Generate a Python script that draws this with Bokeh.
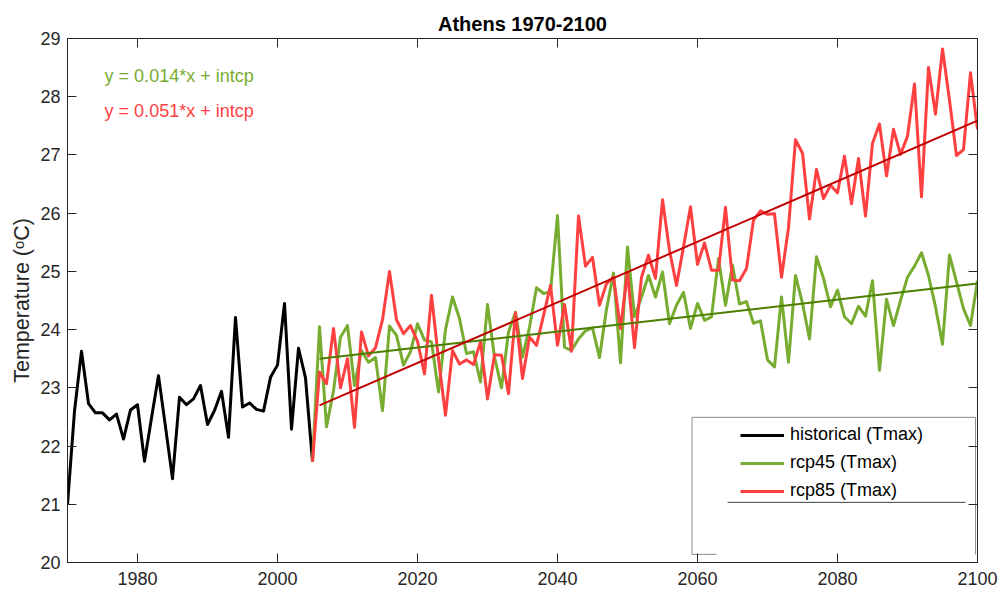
from bokeh.plotting import figure
from bokeh.models import Range1d, FixedTicker, LinearAxis, Label, Legend, LegendItem
from bokeh.embed import file_html
from bokeh.resources import INLINE

# ---------------- data ----------------
hist_years = list(range(1970, 2006))
hist_tmax = [21.00, 22.60, 23.63, 22.73, 22.57, 22.57, 22.45, 22.55, 22.12, 22.62,
             22.71, 21.74, 22.48, 23.21, 22.33, 21.44, 22.84, 22.71, 22.81, 23.04,
             22.37, 22.61, 22.94, 22.15, 24.21, 22.67, 22.74, 22.63, 22.60, 23.18,
             23.39, 24.45, 22.29, 23.68, 23.17, 21.73]

rcp_years = list(range(2005, 2101))
rcp45_tmax = [21.73, 24.05, 22.33, 22.95, 23.87, 24.07, 23.04, 23.64, 23.44, 23.52,
              22.61, 24.06, 23.90, 23.39, 23.62, 24.10, 23.82, 23.79, 22.93, 24.00,
              24.56, 24.19, 23.59, 23.62, 23.10, 24.43, 23.53, 23.00, 23.96, 24.30,
              23.53, 24.04, 24.72, 24.62, 24.65, 25.96, 23.70, 23.64, 23.84, 23.98,
              24.03, 23.52, 24.35, 24.97, 23.43, 25.42, 24.22, 24.56, 24.93, 24.56,
              24.99, 24.10, 24.42, 24.64, 24.02, 24.45, 24.16, 24.22, 25.22, 24.42,
              25.11, 24.44, 24.48, 24.11, 24.15, 23.48, 23.36, 24.56, 23.44, 24.93,
              24.45, 23.84, 25.25, 24.88, 24.39, 24.68, 24.22, 24.10, 24.40, 24.23,
              24.84, 23.30, 24.52, 24.07, 24.50, 24.90, 25.09, 25.32, 24.93, 24.39,
              23.75, 25.28, 24.82, 24.36, 24.07, 24.84]
rcp85_tmax = [21.73, 23.27, 23.07, 24.02, 23.00, 23.50, 22.32, 23.96, 23.55, 23.69,
              24.17, 25.00, 24.17, 23.93, 24.07, 23.80, 23.24, 24.59, 23.50, 22.53,
              23.64, 23.41, 23.48, 23.40, 23.79, 22.81, 23.57, 23.56, 22.90, 24.29,
              23.16, 23.87, 23.73, 24.24, 24.76, 23.73, 24.43, 23.63, 25.95, 25.09,
              25.24, 24.42, 24.79, 24.90, 24.02, 24.99, 23.69, 24.90, 25.28, 24.88,
              26.23, 25.36, 24.76, 25.42, 26.11, 25.12, 25.49, 25.02, 25.02, 26.10,
              24.85, 24.84, 25.05, 25.88, 26.04, 25.98, 25.99, 24.90, 25.75, 27.26,
              27.03, 25.90, 26.75, 26.25, 26.48, 26.35, 26.98, 26.16, 26.94, 25.95,
              27.20, 27.53, 26.64, 27.44, 27.01, 27.32, 28.22, 26.28, 28.50, 27.70,
              28.82, 27.94, 26.99, 27.09, 28.41, 27.44]

trend_years = [2006, 2100]
rcp45_trend = [23.50, 24.79]
rcp85_trend = [22.70, 27.59]
trend_labels = ["y = 0.014*x + intcp", "y = 0.051*x + intcp"]
series_names = ["historical (Tmax)", "rcp45 (Tmax)", "rcp85 (Tmax)"]
x_ticks = [1980, 2000, 2020, 2040, 2060, 2080, 2100]
y_ticks = list(range(20, 30))

# ---------------- styling ----------------
FONT = "Liberation Sans"
AX = "#262626"
GREEN = "#77AC30"
RED = "#FF4040"
GREEN_T = "#4C7F00"
RED_T = "#C00000"

p = figure(width=999, height=592,
           x_range=Range1d(1970, 2100), y_range=Range1d(20, 29),
           output_backend="svg", toolbar_location=None,
           title="Athens 1970-2100",
           min_border_left=67, min_border_right=22,
           min_border_top=38, min_border_bottom=30)

p.title.text_font = FONT
p.title.text_font_size = "20px"
p.title.text_font_style = "bold"
p.title.text_color = "black"
p.title.align = "center"
p.title.standoff = 7

p.xgrid.visible = False
p.ygrid.visible = False
p.outline_line_color = AX
p.outline_line_width = 1
p.background_fill_color = "white"
p.border_fill_color = "white"


def style_axis(ax, ticks, show_labels):
    ax.ticker = FixedTicker(ticks=ticks)
    ax.major_tick_in = 9
    ax.major_tick_out = 0
    ax.minor_tick_line_color = None
    ax.axis_line_color = AX
    ax.major_tick_line_color = AX
    ax.major_tick_line_width = 1
    ax.major_label_text_font = FONT
    if show_labels:
        ax.major_label_text_color = AX
        ax.major_label_text_font_size = "18px"
        ax.major_label_standoff = 2
    else:
        ax.major_label_text_color = None
        ax.major_label_text_font_size = "1px"
        ax.major_label_standoff = 0


style_axis(p.xaxis[0], x_ticks, True)
p.xaxis[0].major_label_standoff = 9
style_axis(p.yaxis[0], y_ticks, True)
p.yaxis[0].major_label_standoff = 7
p.yaxis[0].axis_label = "Temperature (ᵒC)"
p.yaxis[0].axis_label_text_font = FONT
p.yaxis[0].axis_label_text_font_size = "21.5px"
p.yaxis[0].axis_label_text_font_style = "normal"
p.yaxis[0].axis_label_text_color = AX
p.yaxis[0].axis_label_standoff = 3

top_ax = LinearAxis()
style_axis(top_ax, x_ticks, False)
p.add_layout(top_ax, "above")
right_ax = LinearAxis()
style_axis(right_ax, y_ticks, False)
p.add_layout(right_ax, "right")

# ---------------- series ----------------
r_h = p.line(hist_years, hist_tmax, line_color="black", line_width=3, line_join="round")
r45 = p.line(rcp_years, rcp45_tmax, line_color=GREEN, line_width=3, line_join="round")
r85 = p.line(rcp_years, rcp85_tmax, line_color=RED, line_width=3, line_join="round")
p.line(trend_years, rcp45_trend, line_color=GREEN_T, line_width=2)
p.line(trend_years, rcp85_trend, line_color=RED_T, line_width=2)

p.add_layout(Label(x=1975.3, y=28.36, text=trend_labels[0], text_color=GREEN,
                   text_font=FONT, text_font_size="18px", text_baseline="middle"))
p.add_layout(Label(x=1975.3, y=27.76, text=trend_labels[1], text_color=RED,
                   text_font=FONT, text_font_size="18px", text_baseline="middle"))

# legend frame (as drawn in the original, with its partial bottom edge)
p.multi_line(xs=[[2059.21, 2059.21, 2099.71, 2099.71], [2059.21, 2062.71]],
             ys=[[20.14, 22.493, 22.493, 20.14], [20.14, 20.14]],
             line_color="#8C8C8C", line_width=1)
p.line([2064.29, 2098.29], [21.033, 21.033], line_color="#404040", line_width=1)

legend = Legend(items=[LegendItem(label=series_names[0], renderers=[r_h]),
                       LegendItem(label=series_names[1], renderers=[r45]),
                       LegendItem(label=series_names[2], renderers=[r85])],
                location=(673, 61))
legend.label_text_font = FONT
legend.label_text_font_size = "18px"
legend.label_text_color = "black"
legend.glyph_width = 44
legend.glyph_height = 20
legend.label_height = 20
legend.spacing = 7
legend.padding = 0
legend.margin = 0
legend.label_standoff = 6
legend.border_line_color = None
legend.background_fill_alpha = 0
p.add_layout(legend)

open("out.html", "w").write(file_html(p, INLINE))
